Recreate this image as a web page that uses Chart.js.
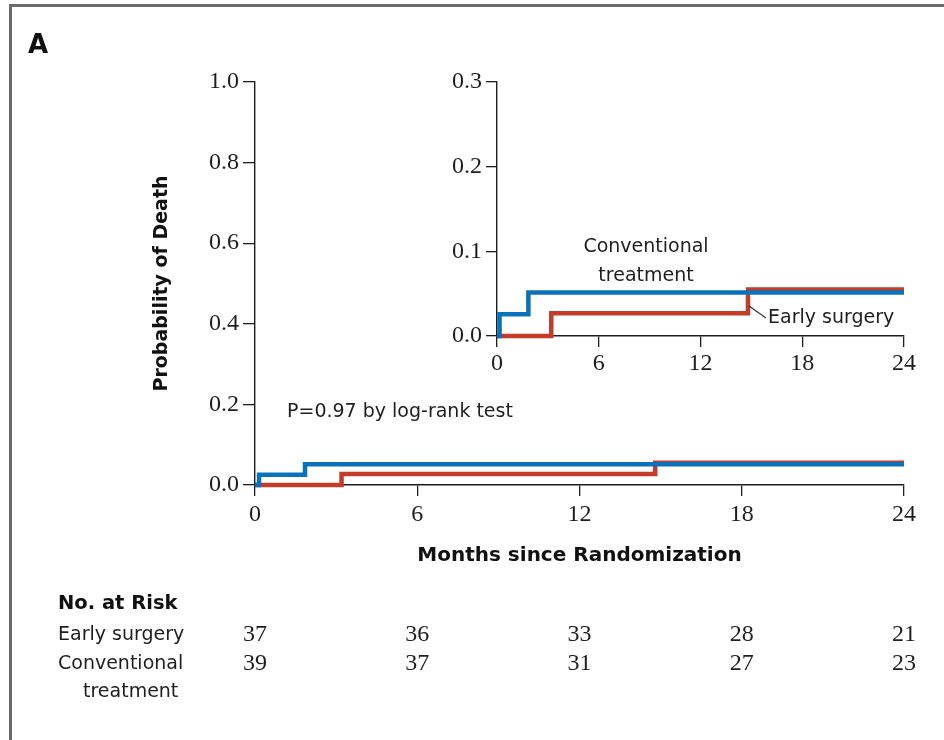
<!DOCTYPE html>
<html><head><meta charset="utf-8">
<script src="https://cdn.jsdelivr.net/npm/chart.js@4"></script>
<style>
html,body{margin:0;padding:0;background:#fff;}
#wrap{position:relative;width:944px;height:740px;overflow:hidden;background:#fff;}
#frame{position:absolute;left:9px;top:4px;width:960px;height:760px;border-top:3px solid #6a6a6a;border-left:3px solid #6a6a6a;}
#main{position:absolute;left:0;top:0;}
#inset{position:absolute;left:420px;top:60px;}
</style></head><body>
<div id="wrap">
<div id="frame"></div>
<canvas id="main" width="944" height="740"></canvas>
<canvas id="inset" width="524" height="330"></canvas>
</div>
<script>
// ---- data ----
const monthTicks = [0, 6, 12, 18, 24];
const mainYTicks = [0, 0.2, 0.4, 0.6, 0.8, 1.0];
const insetYTicks = [0, 0.1, 0.2, 0.3];
const convTimes = [0, 0.15, 1.85, 24];
const convProb  = [0, 0.0256, 0.0513, 0.0513];
const earlyTimes = [0, 3.2, 14.8, 24];
const earlyProb  = [0, 0.027, 0.055, 0.055];
const riskLabels = ["Early surgery", ["Conventional", "treatment"]];
const riskEarly = [37, 36, 33, 28, 21];
const riskConv  = [39, 37, 31, 27, 23];

const BLUE = '#0a72bb', RED = '#c23b2b', INK = '#1e1e1e';
const SANS = '"DejaVu Sans", sans-serif';
const SERIF = '"Liberation Serif", serif';

function pts(t, p) { return t.map((x, i) => ({x: x, y: p[i]})); }
function datasets() {
  return [
    {label: 'Conventional treatment', data: pts(convTimes, convProb), borderColor: BLUE, borderWidth: 4.5,
     stepped: 'before', pointRadius: 0, fill: false, clip: false, borderCapStyle: 'butt', borderJoinStyle: 'miter'},
    {label: 'Early surgery', data: pts(earlyTimes, earlyProb), borderColor: RED, borderWidth: 4.5,
     stepped: 'before', pointRadius: 0, fill: false, clip: false, borderCapStyle: 'butt', borderJoinStyle: 'miter'}
  ];
}
function axisCommon(tickLen) {
  return {
    grid: {display: true, drawOnChartArea: false, drawTicks: true, tickLength: tickLen, color: INK, lineWidth: 1.3},
    border: {display: true, color: INK, width: 1.4}
  };
}

const mainPlugin = {
  id: 'mainText',
  afterDraw(chart) {
    const ctx = chart.ctx, xs = chart.scales.x;
    ctx.save();
    ctx.fillStyle = '#111';
    ctx.textBaseline = 'middle';
    ctx.textAlign = 'left';
    ctx.font = 'bold 26px ' + SANS;
    ctx.fillText('A', 28, 46);
    ctx.font = '19px ' + SANS;
    ctx.fillStyle = INK;
    ctx.fillText('P=0.97 by log-rank test', 287, 412);
    ctx.font = 'bold 19.5px ' + SANS;
    ctx.fillStyle = '#111';
    ctx.fillText('No. at Risk', 58, 604);
    ctx.font = '19px ' + SANS;
    ctx.fillStyle = INK;
    ctx.fillText(riskLabels[0], 58, 635);
    ctx.fillText(riskLabels[1][0], 58, 664);
    ctx.fillText(riskLabels[1][1], 83, 692);
    ctx.font = '24px ' + SERIF;
    ctx.textAlign = 'center';
    monthTicks.forEach((m, i) => {
      const px = xs.getPixelForValue(m);
      ctx.fillText(String(riskEarly[i]), px, 635);
      ctx.fillText(String(riskConv[i]), px, 664);
    });
    ctx.restore();
  }
};

new Chart(document.getElementById('main'), {
  type: 'line',
  data: {datasets: datasets()},
  options: {
    responsive: false, animation: false,
    layout: {padding: {left: 145, top: 82, right: 40, bottom: 165}},
    plugins: {legend: {display: false}, tooltip: {enabled: false}},
    scales: {
      x: Object.assign(axisCommon(11), {
        type: 'linear', min: 0, max: 24,
        afterBuildTicks: s => { s.ticks = monthTicks.map(v => ({value: v})); },
        afterFit: s => { s.height = 90; },
        ticks: {font: {family: SERIF, size: 24}, color: INK, padding: 4, maxRotation: 0, autoSkip: false,
                callback: v => String(v)},
        title: {display: true, text: 'Months since Randomization', color: '#111',
                font: {family: SANS, size: 20, weight: 'bold'}, padding: {top: 0, bottom: 7}}
      }),
      y: Object.assign(axisCommon(12), {
        type: 'linear', min: 0, max: 1,
        afterBuildTicks: s => { s.ticks = mainYTicks.map(v => ({value: v})); },
        afterFit: s => { s.width = 110; },
        ticks: {font: {family: SERIF, size: 24}, color: INK, padding: 4, autoSkip: false,
                callback: v => Number(v).toFixed(1)},
        title: {display: true, text: 'Probability of Death', color: '#111',
                font: {family: SANS, size: 19, weight: 'bold'}, padding: {top: 6, bottom: 0}}
      })
    }
  },
  plugins: [mainPlugin]
});

const insetPlugin = {
  id: 'insetText',
  afterDraw(chart) {
    const ctx = chart.ctx, xs = chart.scales.x, ys = chart.scales.y;
    ctx.save();
    ctx.fillStyle = INK;
    ctx.font = '19px ' + SANS;
    ctx.textBaseline = 'middle';
    ctx.textAlign = 'center';
    ctx.fillText('Conventional', 226, 187);
    ctx.fillText('treatment', 226, 216);
    ctx.textAlign = 'left';
    ctx.fillText('Early surgery', 348, 258);
    ctx.strokeStyle = '#333';
    ctx.lineWidth = 1.2;
    ctx.beginPath();
    ctx.moveTo(329, 246);
    ctx.lineTo(346, 258);
    ctx.stroke();
    ctx.restore();
  }
};

new Chart(document.getElementById('inset'), {
  type: 'line',
  data: {datasets: datasets()},
  options: {
    responsive: false, animation: false,
    layout: {padding: {left: 17, top: 22, right: 40, bottom: 14}},
    plugins: {legend: {display: false}, tooltip: {enabled: false}},
    scales: {
      x: Object.assign(axisCommon(11), {
        type: 'linear', min: 0, max: 24,
        afterBuildTicks: s => { s.ticks = monthTicks.map(v => ({value: v})); },
        afterFit: s => { s.height = 40; },
        ticks: {font: {family: SERIF, size: 24}, color: INK, padding: 2, maxRotation: 0, autoSkip: false,
                callback: v => String(v)}
      }),
      y: Object.assign(axisCommon(11), {
        type: 'linear', min: 0, max: 0.3,
        afterBuildTicks: s => { s.ticks = insetYTicks.map(v => ({value: v})); },
        afterFit: s => { s.width = 60; },
        ticks: {font: {family: SERIF, size: 24}, color: INK, padding: 4, autoSkip: false,
                callback: v => Number(v).toFixed(1)}
      })
    }
  },
  plugins: [insetPlugin]
});
</script>
</body></html>
